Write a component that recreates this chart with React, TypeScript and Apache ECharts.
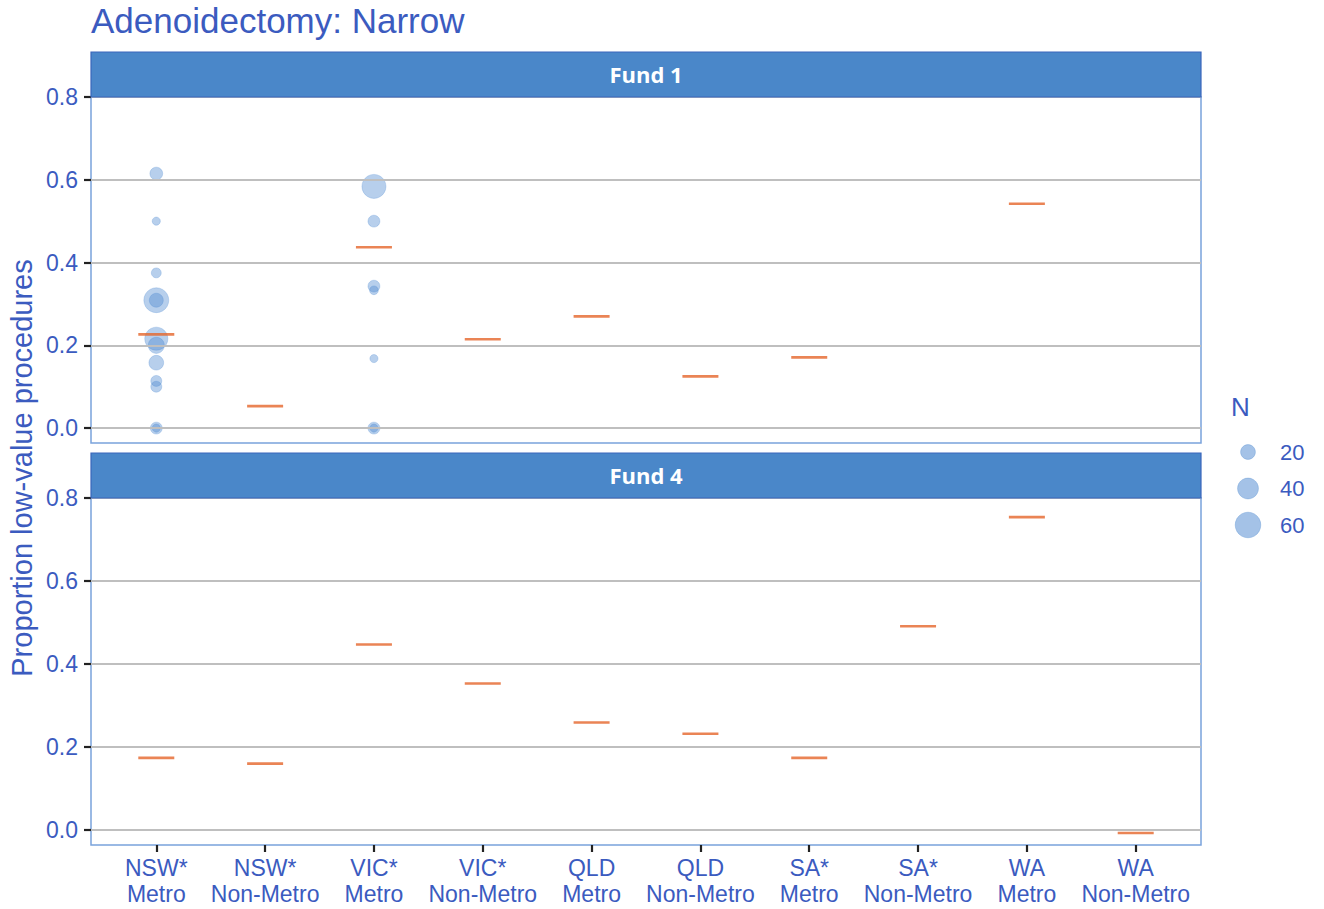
import React, { useEffect, useRef } from "react";
import * as echarts from "echarts";

const regions = ["NSW*", "NSW*", "VIC*", "VIC*", "QLD", "QLD", "SA*", "SA*", "WA", "WA"];
const areas = ["Metro", "Non-Metro", "Metro", "Non-Metro", "Metro", "Non-Metro", "Metro", "Non-Metro", "Metro", "Non-Metro"];
const yTicks = [0, 0.2, 0.4, 0.6, 0.8];
const xTicks = [0, 1, 2, 3, 4, 5, 6, 7, 8, 9];
const legendSizes = [20, 40, 60];

// Fund 1 individual points: [categoryIndex, proportion, N]
const fund1Points: [number, number, number][] = [
  [0, 0.615, 15], [0, 0.5, 6], [0, 0.375, 9], [0, 0.309, 57], [0, 0.309, 18],
  [0, 0.216, 49], [0, 0.2, 24], [0, 0.158, 20], [0, 0.114, 11], [0, 0.1, 11],
  [0, 0, 13], [0, 0, 6],
  [2, 0.584, 53], [2, 0.5, 13], [2, 0.343, 13], [2, 0.333, 7], [2, 0.168, 6],
  [2, 0, 13], [2, 0, 6],
];
// Fund 4 points: none
const fund4Points: [number, number, number][] = [];

// Average marks (null = none)
const fund1Means: (number | null)[] = [0.2265, 0.053, 0.437, 0.2145, 0.27, 0.125, 0.171, null, 0.542, null];
const fund4Means: (number | null)[] = [0.174, 0.16, 0.447, 0.353, 0.259, 0.232, 0.174, 0.491, 0.754, -0.007];

const TEXT = "#3b5bbf";
const ORANGE = "#e5652a";
const PT = "rgba(74,134,207,0.5)";
const FONT = "'Liberation Sans', Arial, sans-serif";
const sizeOf = (n: number) => 3.3 * Math.sqrt(n);

export default function App() {
  const ref = useRef<HTMLDivElement>(null);
  useEffect(() => {
    if (!ref.current) return;
    const chart = echarts.init(ref.current, null, { renderer: "svg" });
    const L = 91, W = 1110;
    const grids = [
      { left: L, top: 97, width: W, height: 346 },
      { left: L, top: 498, width: W, height: 347 },
    ];
    const meanData = (arr: (number | null)[]) =>
      arr.map((v, i) => (v === null ? null : [i, v])).filter((d) => d !== null);

    const xAxis = [0, 1].map((gi) => ({
      type: "value",
      gridIndex: gi,
      min: -0.6,
      max: 9.6,
      axisLine: { show: false, onZero: false },
      splitLine: { show: false },
      axisTick: {
        show: gi === 1,
        customValues: xTicks,
        length: 7,
        lineStyle: { color: "#222", width: 2.2 },
      },
      axisLabel: {
        show: gi === 1,
        customValues: xTicks,
        formatter: (v: number) => regions[Math.round(v)] + "\n" + areas[Math.round(v)],
        color: TEXT,
        fontSize: 23,
        fontFamily: FONT,
        lineHeight: 26,
        margin: 10,
      },
    }));
    const yAxis = [0, 1].map((gi) => ({
      type: "value",
      gridIndex: gi,
      min: -0.036,
      max: 0.8,
      axisLine: { show: false, onZero: false },
      splitLine: { show: false },
      axisTick: {
        show: true,
        customValues: yTicks,
        length: 7,
        lineStyle: { color: "#222", width: 2.2 },
      },
      axisLabel: {
        customValues: yTicks,
        formatter: (v: number) => v.toFixed(1),
        color: TEXT,
        fontSize: 23,
        fontFamily: FONT,
        margin: 13,
      },
    }));

    const gridSeries = [0, 1].map((gi) => ({
      type: "scatter",
      xAxisIndex: gi,
      yAxisIndex: gi,
      data: [],
      z: 1,
      silent: true,
      markLine: {
        silent: true,
        symbol: "none",
        label: { show: false },
        lineStyle: { color: "#bfbfbf", width: 2.2, type: "solid" },
        data: yTicks.map((t) => ({ yAxis: t })),
      },
    }));
    const pointSeries = [fund1Points, fund4Points].map((pts, gi) => ({
      type: "scatter",
      xAxisIndex: gi,
      yAxisIndex: gi,
      z: 3,
      data: pts,
      symbolSize: (d: number[]) => sizeOf(d[2]),
      itemStyle: { color: PT, borderColor: "rgba(74,134,207,0.55)", borderWidth: 0.6 },
    }));
    const meanSeries = [fund1Means, fund4Means].map((m, gi) => ({
      type: "scatter",
      xAxisIndex: gi,
      yAxisIndex: gi,
      z: 4,
      data: meanData(m),
      symbol: "rect",
      symbolSize: [36, 2.6],
      itemStyle: { color: ORANGE },
    }));

    const headers = [
      { y: 52, label: "Fund 1" },
      { y: 453, label: "Fund 4" },
    ];
    const graphic: any[] = [];
    headers.forEach((h) => {
      graphic.push({
        type: "rect",
        shape: { x: L, y: h.y, width: W, height: 45 },
        style: { fill: "#4a87c9", stroke: "#3a66bb", lineWidth: 1.2 },
        z: 10,
      });
      graphic.push({
        type: "text",
        x: L + W / 2,
        y: h.y + 22,
        style: {
          text: h.label,
          fill: "#ffffff",
          font: "bold 22px 'Open Sans', Roboto, sans-serif",
          textAlign: "center",
          textVerticalAlign: "middle",
        },
        z: 11,
      });
    });
    graphic.push({
      type: "text",
      x: 91,
      y: 20,
      style: {
        text: "Adenoidectomy: Narrow",
        fill: TEXT,
        font: "35px " + FONT,
        textAlign: "left",
        textVerticalAlign: "middle",
      },
    });
    graphic.push({
      type: "text",
      x: 22,
      y: 468,
      rotation: Math.PI / 2,
      style: {
        text: "Proportion low-value procedures",
        fill: TEXT,
        font: "29px " + FONT,
        textAlign: "center",
        textVerticalAlign: "middle",
      },
    });
    graphic.push({
      type: "text",
      x: 1231,
      y: 407,
      style: { text: "N", fill: TEXT, font: "26px " + FONT, textAlign: "left", textVerticalAlign: "middle" },
    });
    legendSizes.forEach((n, i) => {
      const cy = 452 + i * 36.5;
      graphic.push({
        type: "circle",
        shape: { cx: 1248, cy, r: sizeOf(n) / 2 },
        style: { fill: PT, stroke: "rgba(74,134,207,0.55)", lineWidth: 0.6 },
      });
      graphic.push({
        type: "text",
        x: 1280,
        y: cy,
        style: { text: String(n), fill: TEXT, font: "22px " + FONT, textAlign: "left", textVerticalAlign: "middle" },
      });
    });

    chart.setOption({
      animation: false,
      backgroundColor: "#ffffff",
      grid: grids.map((g) => ({ ...g, show: true, backgroundColor: "#ffffff", borderColor: "#7aa3dc", borderWidth: 1.5 })),
      xAxis,
      yAxis,
      series: [...gridSeries, ...pointSeries, ...meanSeries],
      graphic,
    });
    return () => chart.dispose();
  }, []);
  return <div ref={ref} style={{ position: "fixed", left: 0, top: 0, width: 1324, height: 909 }} />;
}
